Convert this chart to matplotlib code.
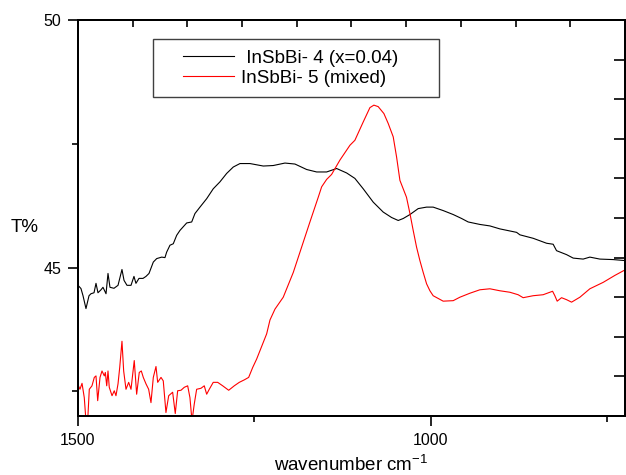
import matplotlib
matplotlib.use("Agg")
import matplotlib.pyplot as plt
from matplotlib.patches import Rectangle

plt.rcParams['font.family'] = ['Liberation Sans', 'DejaVu Sans']
plt.rcParams['mathtext.default'] = 'regular'

# ---- data ----
wn_black = [1500, 1495.8, 1492.9, 1488.7, 1484.4, 1481.6, 1477.3, 1474.5, 1471.7, 1467.4,
            1464.6, 1460.3, 1457.5, 1454.7, 1449.0, 1443.3, 1437.7, 1434.8, 1430.6, 1424.9,
            1420.7, 1417.9, 1413.6, 1407.9, 1403.7, 1399.4, 1393.3, 1388.5, 1381.4, 1376.8,
            1374.4, 1369.7, 1365.0, 1360.2, 1355.5, 1346.0, 1338.9, 1334.3, 1327.2, 1317.7,
            1308.4, 1298.9, 1289.4, 1280.0, 1270.5, 1256.4, 1237.5, 1223.4, 1206.8, 1192.6,
            1176.1, 1161.9, 1147.7, 1133.6, 1119.4, 1107.7, 1095.9, 1081.7, 1067.6, 1055.7,
            1046.3, 1039.2, 1029.7, 1018.0, 1006.1, 996.8, 982.6, 968.4, 956.5, 947.2,
            930.6, 916.4, 902.3, 878.6, 873.9, 855.1, 836.1, 826.8, 822.0, 807.8,
            798.4, 784.3, 774.8, 760.6, 741.8, 725.2]
t_black = [44.64, 44.575, 44.43, 44.17, 44.43, 44.47, 44.49, 44.68, 44.49, 44.55,
           44.60, 44.47, 44.88, 44.60, 44.58, 44.64, 44.96, 44.74, 44.64, 44.64,
           44.82, 44.68, 44.78, 44.78, 44.82, 44.88, 45.11, 45.18, 45.21, 45.20,
           45.31, 45.45, 45.48, 45.65, 45.75, 45.90, 45.92, 46.09, 46.22, 46.39,
           46.59, 46.73, 46.90, 47.03, 47.10, 47.10, 47.05, 47.06, 47.11, 47.09,
           46.98, 46.93, 46.93, 47.00, 46.91, 46.80, 46.59, 46.32, 46.12, 46.01,
           45.95, 45.99, 46.07, 46.19, 46.22, 46.22, 46.15, 46.07, 45.99, 45.92,
           45.87, 45.84, 45.78, 45.71, 45.66, 45.59, 45.49, 45.47, 45.34, 45.26,
           45.19, 45.17, 45.21, 45.17, 45.16, 45.14]

wn_red = [1500, 1497.2, 1494.3, 1491.1, 1488.7, 1486.3, 1484.0, 1480.2, 1476.9, 1474.5,
          1472.1, 1468.8, 1466.0, 1462.7, 1461.3, 1459.3, 1457.5, 1455.7, 1451.8, 1448.6,
          1446.2, 1443.3, 1440.9, 1437.7, 1435.3, 1432.0, 1428.2, 1424.9, 1420.3, 1416.9,
          1413.2, 1410.3, 1407.5, 1403.7, 1399.9, 1396.6, 1393.3, 1389.5, 1387.1, 1382.4,
          1379.2, 1375.4, 1371.5, 1365.9, 1362.2, 1358.8, 1354.1, 1349.4, 1344.6, 1341.4,
          1338.5, 1335.3, 1331.9, 1325.8, 1321.1, 1317.7, 1314.0, 1308.4, 1302.1, 1295.0,
          1286.5, 1278.6, 1271.5, 1264.4, 1258.2, 1252.5, 1246.9, 1232.7, 1228.0, 1220.9,
          1209.2, 1195.0, 1183.2, 1171.4, 1159.6, 1154.8, 1147.7, 1140.7, 1128.9, 1114.7,
          1107.7, 1095.9, 1086.4, 1080.8, 1074.7, 1066.6, 1060.5, 1053.4, 1048.6, 1043.9,
          1034.6, 1029.7, 1025.1, 1020.3, 1015.6, 1010.9, 1006.1, 1001.4, 996.8, 982.6,
          968.4, 958.9, 944.8, 930.6, 916.4, 902.3, 888.1, 876.4, 869.3, 855.1,
          841.0, 827.6, 824.4, 821.1, 814.9, 807.8, 800.7, 788.9, 774.8, 755.9,
          739.4, 725.2]
t_red = [42.63, 42.54, 42.66, 42.37, 41.90, 41.90, 42.54, 42.61, 42.78, 42.81,
         42.31, 42.78, 42.91, 42.81, 42.88, 42.61, 42.91, 42.58, 42.41, 42.51,
         42.41, 42.65, 42.98, 43.51, 42.91, 42.54, 42.68, 42.54, 43.12, 42.44,
         42.88, 42.91, 42.78, 42.65, 42.54, 42.27, 42.78, 43.00, 42.68, 42.78,
         42.71, 42.07, 42.41, 42.48, 42.05, 42.51, 42.52, 42.58, 42.61, 42.37,
         41.90, 42.24, 42.54, 42.56, 42.61, 42.44, 42.54, 42.68, 42.68, 42.61,
         42.52, 42.61, 42.68, 42.73, 42.78, 42.98, 43.15, 43.66, 43.94, 44.16,
         44.40, 44.90, 45.41, 45.92, 46.42, 46.63, 46.78, 46.88, 47.17, 47.47,
         47.57, 47.94, 48.23, 48.28, 48.25, 48.11, 47.91, 47.64, 47.23, 46.76,
         46.42, 46.09, 45.75, 45.41, 45.14, 44.90, 44.67, 44.53, 44.43, 44.32,
         44.33, 44.40, 44.48, 44.55, 44.57, 44.53, 44.50, 44.45, 44.39, 44.43,
         44.45, 44.52, 44.43, 44.32, 44.39, 44.35, 44.30, 44.40, 44.57, 44.70,
         44.84, 44.95]

labels = [" InSbBi- 4 (x=0.04)", "InSbBi- 5 (mixed)"]
x_ticks = [1500, 1000]
x_minor = [1250, 750]
y_ticks = [45, 50]
y_minor = [42.5, 47.5]

fig = plt.figure(figsize=(6.26, 4.75), dpi=100)
ax = fig.add_axes([0.1246, 0.1242, 0.8738, 0.8337])

ax.plot(wn_black, t_black, color='black', lw=0.8, label=labels[0])
ax.plot(wn_red, t_red, color='#ff0000', lw=0.8, label=labels[1])

ax.set_xlim(1500, 725)
ax.set_ylim(42, 50)
ax.set_xticks(x_ticks)
ax.set_xticks(x_minor, minor=True)
ax.set_yticks(y_ticks)
ax.set_yticks(y_minor, minor=True)
ax.tick_params(axis='both', which='major', direction='out', length=7, width=1.2,
               labelsize=11.5, pad=5, top=False, right=False)
ax.tick_params(axis='both', which='minor', direction='out', length=4, width=1.2,
               top=False, right=False)
for s in ax.spines.values():
    s.set_linewidth(1.4)

# top and right independent tick scales (10 divisions each)
axt = ax.twiny()
axt.set_xlim(0, 10)
axt.set_xticks(range(1, 10))
axt.tick_params(axis='x', direction='in', length=5, width=1.2, labeltop=False,
                bottom=False, labelbottom=False)
axr = ax.twinx()
axr.set_ylim(0, 10)
axr.set_yticks(range(1, 10))
axr.tick_params(axis='y', direction='in', length=8, width=1.2, labelright=False,
                left=False, labelleft=False)
for a in (axt, axr):
    for s in a.spines.values():
        s.set_linewidth(1.4)

ax.set_xlabel("wavenumber cm$^{-1}$", fontsize=13.5)
ax.xaxis.set_label_coords(0.5, -0.097)
ax.set_ylabel("T%", fontsize=13.5, rotation=0, ha='center', va='center')
ax.yaxis.set_label_coords(-0.097, 0.475)

# legend box
ax.add_patch(Rectangle((0.137, 0.806), 0.523, 0.146, transform=ax.transAxes,
                       fill=False, edgecolor='#404040', lw=1.0, zorder=5))
axr.legend(handles=ax.get_lines(), labels=labels, loc='upper left',
           bbox_to_anchor=(0.192, 0.925), frameon=False, fontsize=13.5,
           borderpad=0, borderaxespad=0, handlelength=2.7, handletextpad=0.4,
           labelspacing=0.15)

fig.savefig("out.png", dpi=100)
